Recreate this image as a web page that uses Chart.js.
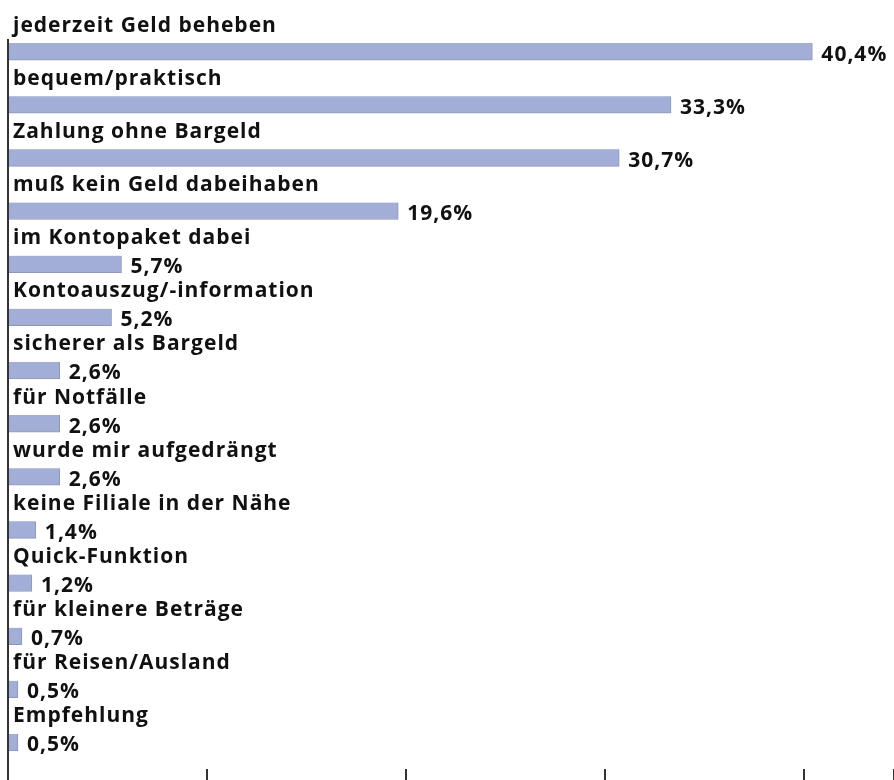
<!DOCTYPE html>
<html lang="de">
<head>
  <meta charset="UTF-8">
  <title>Gründe</title>
  <script src="https://cdn.jsdelivr.net/npm/chart.js"></script>
  <style>
    * { margin: 0; padding: 0; box-sizing: border-box; }
    body { background: #fff; width: 894px; height: 780px; overflow: hidden; }
    #wrap { position: relative; width: 894px; height: 780px; }
  </style>
</head>
<body>
  <div id="wrap"><canvas id="chart"></canvas></div>
  <script>
    const categories = [
      'jederzeit Geld beheben', 'bequem/praktisch', 'Zahlung ohne Bargeld',
      'muß kein Geld dabeihaben', 'im Kontopaket dabei', 'Kontoauszug/-information',
      'sicherer als Bargeld', 'für Notfälle', 'wurde mir aufgedrängt',
      'keine Filiale in der Nähe', 'Quick-Funktion', 'für kleinere Beträge',
      'für Reisen/Ausland', 'Empfehlung'
    ];
    const values = [40.4, 33.3, 30.7, 19.6, 5.7, 5.2, 2.6, 2.6, 2.6, 1.4, 1.2, 0.7, 0.5, 0.5];
    const valueLabels = ['40,4%', '33,3%', '30,7%', '19,6%', '5,7%', '5,2%', '2,6%', '2,6%', '2,6%', '1,4%', '1,2%', '0,7%', '0,5%', '0,5%'];

    const FONT = "bold 21px 'Open Sans', sans-serif";

    const labelsPlugin = {
      id: 'labels',
      afterDatasetsDraw(chart) {
        const ctx = chart.ctx;
        const meta = chart.getDatasetMeta(0);
        const area = chart.chartArea;
        ctx.save();
        // left axis line
        ctx.strokeStyle = '#333';
        ctx.lineWidth = 2;
        ctx.beginPath();
        ctx.moveTo(area.left, area.top + 14);
        ctx.lineTo(area.left, chart.height);
        ctx.stroke();

        ctx.fillStyle = '#111';
        ctx.font = FONT;
        ctx.letterSpacing = '1px';
        ctx.textBaseline = 'middle';
        meta.data.forEach((bar, i) => {
          ctx.textAlign = 'left';
          ctx.fillText(categories[i], area.left + 5, bar.y - 26);
          ctx.fillText(valueLabels[i], bar.x + 9, bar.y + 3);
        });
        ctx.restore();
      }
    };

    new Chart(document.getElementById('chart'), {
      type: 'bar',
      data: {
        labels: categories,
        datasets: [{
          data: values,
          backgroundColor: '#a3aed7',
          borderColor: '#8e97b9',
          borderWidth: { top: 0, left: 0, bottom: 1, right: 1 },
          borderSkipped: 'left',
          barThickness: 17
        }]
      },
      options: {
        indexAxis: 'y',
        responsive: true,
        maintainAspectRatio: false,
        animation: false,
        layout: { padding: { left: 8, right: 0, top: 25, bottom: 0 } },
        plugins: { legend: { display: false }, tooltip: { enabled: false } },
        scales: {
          x: {
            min: 0,
            max: 44.5,
            ticks: { display: false, stepSize: 10 },
            grid: { display: true, drawOnChartArea: false, drawTicks: true, tickLength: 11, color: '#333', lineWidth: 2 },
            border: { display: false }
          },
          y: {
            display: false
          }
        }
      },
      plugins: [labelsPlugin]
    });
  </script>
</body>
</html>
